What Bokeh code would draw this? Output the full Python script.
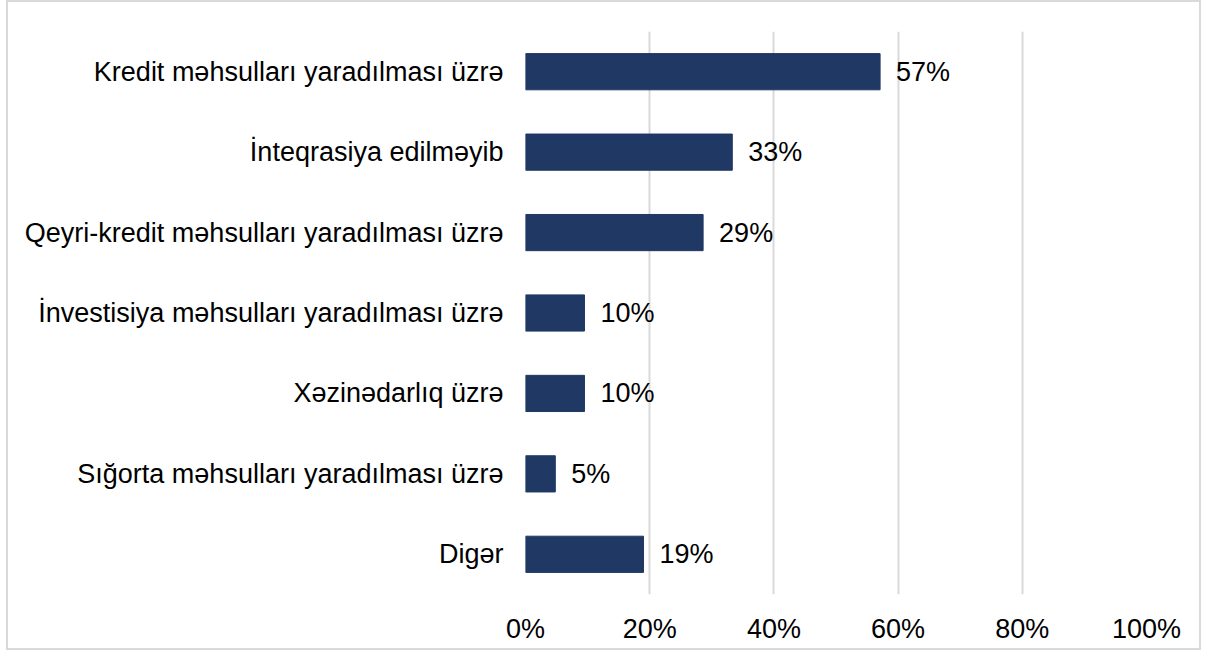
from bokeh.plotting import figure
from bokeh.models import ColumnDataSource, FixedTicker, CustomJSTickFormatter
from bokeh.core.properties import value
from bokeh.embed import file_html
from bokeh.resources import INLINE

categories = [
    "Kredit məhsulları yaradılması üzrə",
    "İnteqrasiya edilməyib",
    "Qeyri-kredit məhsulları yaradılması üzrə",
    "İnvestisiya məhsulları yaradılması üzrə",
    "Xəzinədarlıq üzrə",
    "Sığorta məhsulları yaradılması üzrə",
    "Digər",
]
values = [57.1, 33.3, 28.6, 9.5, 9.5, 4.8, 19.0]
value_labels = ["57%", "33%", "29%", "10%", "10%", "5%", "19%"]
x_ticks = [0, 20, 40, 60, 80, 100]

FONT = "Liberation Sans"
FSIZE = "27px"
BAR = "#203864"
GRID = "#d9d9d9"

src = ColumnDataSource(dict(cat=categories, val=values, lab=value_labels))

p = figure(
    y_range=list(reversed(categories)),
    x_range=(0, 100),
    width=1195, height=650,
    output_backend="svg", toolbar_location=None,
    min_border_left=517, min_border_right=57,
    min_border_top=29, min_border_bottom=58,
    styles={"border": "2px solid #d9d9d9", "box-sizing": "border-box",
            "margin-left": "6px"},
)
p.outline_line_color = None
p.background_fill_color = "white"
p.border_fill_color = "white"

p.hbar(y="cat", right="val", left=0, height=0.45, source=src,
       fill_color=BAR, line_color=BAR)

p.text(x="val", y="cat", text="lab", source=src, x_offset=16,
       text_font=value(FONT), text_font_size=FSIZE, text_color="black",
       text_align="left", text_baseline="middle")

p.xaxis.ticker = FixedTicker(ticks=x_ticks)
p.xaxis.formatter = CustomJSTickFormatter(code="return tick + '%';")
p.xaxis.axis_line_color = None
p.xaxis.major_tick_line_color = None
p.xaxis.minor_tick_line_color = None
p.xaxis.major_label_text_font = FONT
p.xaxis.major_label_text_font_size = FSIZE
p.xaxis.major_label_text_color = "black"
p.xaxis.major_label_standoff = 13

p.yaxis.axis_line_color = None
p.yaxis.major_tick_line_color = None
p.yaxis.minor_tick_line_color = None
p.yaxis.major_label_text_font = FONT
p.yaxis.major_label_text_font_size = FSIZE
p.yaxis.major_label_text_color = "black"
p.yaxis.major_label_standoff = 16

p.ygrid.grid_line_color = None
p.xgrid.grid_line_color = GRID
p.xgrid.grid_line_width = 2

open("out.html", "w").write(file_html(p, INLINE))
